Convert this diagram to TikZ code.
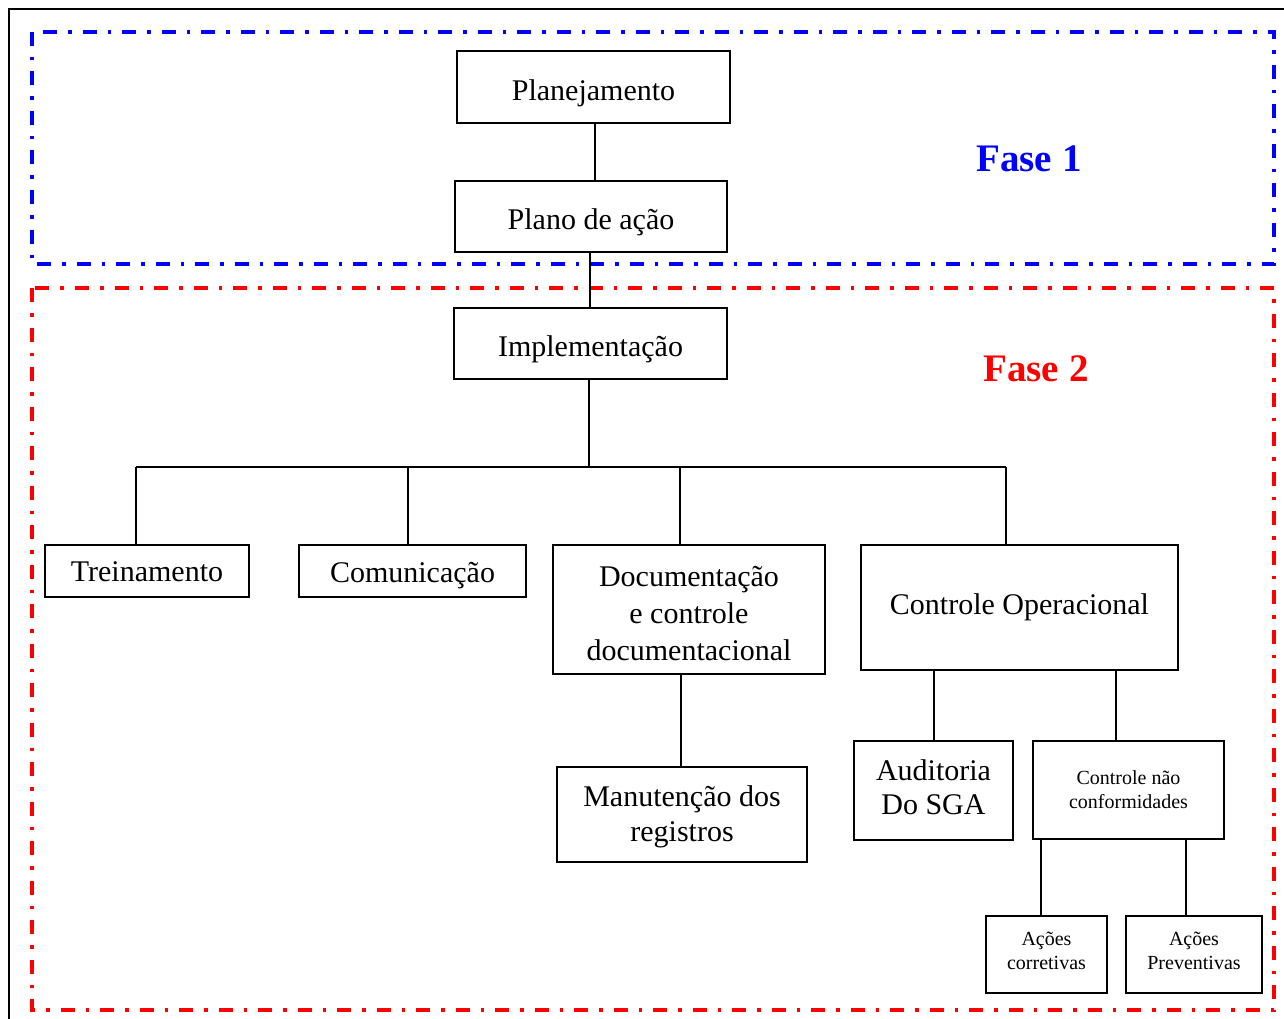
\documentclass[tikz,border=0pt]{standalone}
\usepackage{fontspec}
\setmainfont{Liberation Serif}
\begin{document}
\begin{tikzpicture}[x=1pt,y=-1pt,
  box/.style={draw=black,line width=2pt,inner sep=0pt,align=center,font=\fontsize{30}{36}\selectfont},
  sbox/.style={box,font=\fontsize{20}{24}\selectfont},
  conn/.style={draw=black,line width=2pt},
  phase/.style={line width=3.6pt,dash pattern=on 14pt off 11pt on 3.5pt off 11pt},
  phlabel/.style={font=\bfseries\fontsize{39}{39}\selectfont}]
\useasboundingbox (0,0) rectangle (1284,1019);
% outer frame
\coordinate (fTR) at (1290,9);
\coordinate (fTL) at (9,9);
\coordinate (fBL) at (9,1025);
\draw[line width=1.5pt] (fTR) -- (fTL) -- (fBL);
% phase frames
\draw[phase,blue] (32,32) rectangle (1274,264);
\draw[phase,red] (32,288) rectangle (1274,1010);
\node[phlabel,text=blue] (f1) at (1029,159) {Fase 1};
\node[phlabel,text=red] (f2) at (1036,369) {Fase 2};
% boxes
\node[box,minimum width=273pt,minimum height=72pt] (plan) at (593.5,87) {\rule{0pt}{33pt}Planejamento};
\node[box,minimum width=272pt,minimum height=71pt] (plano) at (591,216.5) {\rule{0pt}{33pt}Plano de ação};
\node[box,minimum width=273pt,minimum height=71pt] (impl) at (590.5,343.5) {\rule{0pt}{33pt}Implementação};
\node[box,minimum width=204pt,minimum height=52pt] (trein) at (147,571) {\rule{0pt}{22pt}Treinamento};
\node[box,minimum width=227pt,minimum height=52pt] (comu) at (412.5,571) {\rule{0pt}{29pt}Comunicação};
\node[box,minimum width=272pt,minimum height=129pt,font=\fontsize{30}{37}\selectfont] (doc) at (689,609.5) {\rule{0pt}{28pt}Documentação\\e controle\\documentacional};
\node[box,minimum width=317pt,minimum height=125pt] (ctrl) at (1019.5,607.5) {Controle Operacional};
\node[box,minimum width=250pt,minimum height=95pt,font=\fontsize{30}{35}\selectfont] (manu) at (682,814.5) {\rule{0pt}{25pt}Manutenção dos\\registros};
\node[box,minimum width=159pt,minimum height=99pt,font=\fontsize{30}{34}\selectfont] (audi) at (933.5,790.5) {Auditoria\\Do SGA\rule[-6pt]{0pt}{6pt}};
\node[sbox,minimum width=191pt,minimum height=98pt] (cnc) at (1128.5,790) {Controle não\\conformidades};
\node[sbox,minimum width=121pt,minimum height=77pt,text depth=8pt] (acor) at (1046.5,954.5) {Ações\\corretivas};
\node[sbox,minimum width=136pt,minimum height=77pt,text depth=8pt] (aprev) at (1194,954.5) {Ações\\Preventivas};
% connectors
\coordinate (x1) at (595,0);
\coordinate (x2) at (590,0);
\draw[conn] (plan.south -| x1) -- (plano.north -| x1);
\draw[conn] (plano.south -| x2) -- (impl.north -| x2);
\coordinate (bL) at (136,467);
\coordinate (bR) at (1006,467);
\coordinate (bC) at (680,467);
\coordinate (bM) at (408,467);
\coordinate (bI) at (589,467);
\draw[conn] (impl.south -| bI) -- (bI);
\draw[conn] (bL) -- (bR);
\draw[conn] (bL) -- (bL |- trein.north);
\draw[conn] (bM) -- (bM |- comu.north);
\draw[conn] (bC) -- (bC |- doc.north);
\draw[conn] (bR) -- (bR |- ctrl.north);
\coordinate (x3) at (681,0);
\draw[conn] (doc.south -| x3) -- (manu.north -| x3);
\coordinate (c1) at (934,670);
\coordinate (c2) at (1116,670);
\draw[conn] (c1) -- (c1 |- audi.north);
\draw[conn] (c2) -- (c2 |- cnc.north);
\coordinate (c3) at (1041,839);
\coordinate (c4) at (1186,839);
\draw[conn] (c3) -- (c3 |- acor.north);
\draw[conn] (c4) -- (c4 |- aprev.north);
\end{tikzpicture}
\end{document}
